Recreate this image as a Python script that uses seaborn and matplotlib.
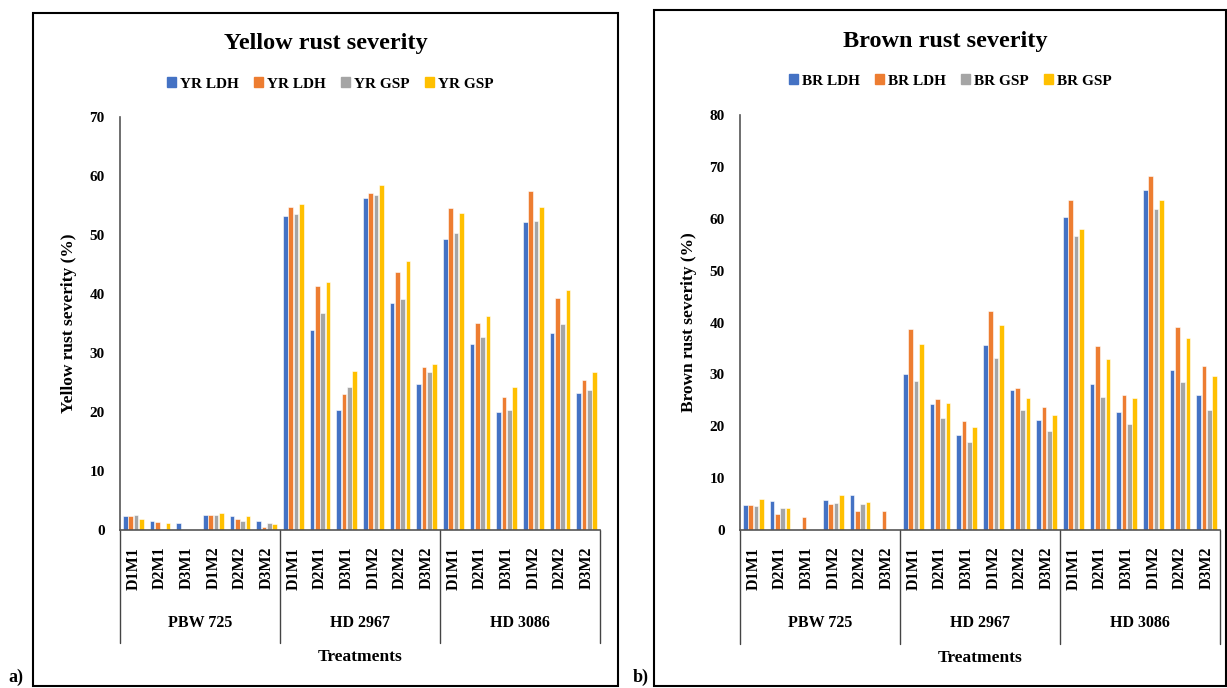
import numpy as np
import pandas as pd
import seaborn as sns
import matplotlib.pyplot as plt
from matplotlib.patches import Rectangle
from matplotlib.lines import Line2D
import matplotlib.transforms as mtransforms

sns.set_style("white")
plt.rcParams['font.family'] = ['Liberation Serif', 'DejaVu Serif']
plt.rcParams['font.weight'] = 'bold'
plt.rcParams['text.color'] = 'black'
plt.rcParams['axes.labelcolor'] = 'black'
plt.rcParams['xtick.color'] = 'black'
plt.rcParams['ytick.color'] = 'black'

varieties = ["PBW 725", "HD 2967", "HD 3086"]
treatments = ["D1M1", "D2M1", "D3M1", "D1M2", "D2M2", "D3M2"]
colors = ["#4472C4", "#ED7D31", "#A5A5A5", "#FFC000"]

yr_names = ["YR LDH", "YR LDH", "YR GSP", "YR GSP"]
br_names = ["BR LDH", "BR LDH", "BR GSP", "BR GSP"]

# yellow rust, one list per series, 18 values (3 varieties x 6 treatments)
yr_s1 = [2.4, 1.5, 1.2, 2.5, 2.4, 1.5,
         53.2, 33.9, 20.3, 56.2, 38.4, 24.7,
         49.3, 31.5, 20.0, 52.2, 33.4, 23.2]
yr_s2 = [2.4, 1.3, 0.0, 2.5, 1.8, 0.5,
         54.7, 41.3, 23.0, 57.2, 43.8, 27.6,
         54.5, 35.1, 22.5, 57.5, 39.3, 25.4]
yr_s3 = [2.6, 0.0, 0.0, 2.6, 1.5, 1.2,
         53.5, 36.7, 24.2, 56.8, 39.2, 26.7,
         50.3, 32.7, 20.3, 52.4, 34.9, 23.8]
yr_s4 = [1.9, 1.2, 0.0, 2.9, 2.4, 1.1,
         55.2, 42.0, 26.9, 58.4, 45.6, 28.2,
         53.7, 36.3, 24.2, 54.7, 40.7, 26.8]

# brown rust
br_s1 = [4.9, 5.6, 0.0, 5.8, 6.7, 0.0,
         30.1, 24.2, 18.3, 35.7, 27.0, 21.3,
         60.3, 28.1, 22.7, 65.5, 30.9, 26.0]
br_s2 = [4.9, 3.1, 2.5, 5.1, 3.7, 3.7,
         38.7, 25.2, 21.0, 42.3, 27.3, 23.7,
         63.6, 35.4, 26.0, 68.2, 39.2, 31.6]
br_s3 = [4.6, 4.2, 0.0, 5.3, 5.1, 0.0,
         28.7, 21.5, 17.0, 33.2, 23.1, 19.1,
         56.6, 25.7, 20.5, 61.8, 28.6, 23.2]
br_s4 = [6.0, 4.2, 0.0, 6.7, 5.4, 0.0,
         35.8, 24.4, 19.8, 39.5, 25.5, 22.1,
         58.0, 33.0, 25.5, 63.6, 37.1, 29.6]


def make_df(series):
    rows = []
    for k, vals in enumerate(series):
        for i, v in enumerate(vals):
            rows.append({"cat": varieties[i // 6] + " " + treatments[i % 6],
                         "series": "s%d" % k, "value": v})
    return pd.DataFrame(rows)


W, H = 1227, 688
fig = plt.figure(figsize=(W / 100, H / 100), dpi=100)
fig.patch.set_facecolor("white")


def px(x, y):
    return x / W, 1 - y / H


def draw_panel(rect, series, names, ymax, title, ylabel, title_xy, legend_xy, box, tag_xy, tag):
    ax = fig.add_axes(rect)
    df = make_df(series)
    order = df["cat"].unique()
    sns.barplot(data=df, x="cat", y="value", hue="series", order=order,
                palette=colors, saturation=1, width=0.8, gap=0.1, legend=False,
                edgecolor="white", linewidth=0.4, ax=ax, errorbar=None)
    ax.set_xlim(-0.5, 17.5)
    ax.set_ylim(0, ymax)
    ax.set_yticks(np.arange(0, ymax + 1, 10))
    ax.set_xticks(range(18))
    ax.set_xticklabels(treatments * 3, rotation=90, fontsize=11.5, fontweight="bold")
    ax.tick_params(axis="both", length=0)
    ax.tick_params(axis="y", pad=11, labelsize=11)
    ax.tick_params(axis="x", pad=12)
    for lab in ax.get_yticklabels():
        lab.set_fontweight("bold")
    for s in ["top", "right"]:
        ax.spines[s].set_visible(False)
    ax.spines["left"].set_color("#555555")
    ax.spines["bottom"].set_color("#555555")
    ax.spines["left"].set_linewidth(1.2)
    ax.spines["bottom"].set_linewidth(1.2)
    ax.set_xlabel("")
    ax.set_ylabel(ylabel, fontsize=12.5, fontweight="bold", labelpad=9)

    # group separators and variety labels under the axis
    trans = mtransforms.blended_transform_factory(ax.transData, ax.transAxes)
    for b in [-0.5, 5.5, 11.5, 17.5]:
        ax.add_line(Line2D([b, b], [0, -0.274], transform=trans, color="#444444",
                           linewidth=1.0, clip_on=False))
    for g, v in enumerate(varieties):
        ax.text(2.5 + 6 * g, -0.225, v, transform=trans, ha="center", va="center",
                fontsize=11.5, fontweight="bold")
    ax.text(0.5, -0.308, "Treatments", transform=ax.transAxes, ha="center",
            va="center", fontsize=12.5, fontweight="bold")

    tx, ty = px(*title_xy)
    fig.text(tx, ty, title, ha="center", va="center", fontsize=17.5, fontweight="bold")
    handles = [Rectangle((0, 0), 1, 1, color=c) for c in colors]
    lx, ly = px(*legend_xy)
    fig.legend(handles, names, loc="center", bbox_to_anchor=(lx, ly), ncol=4,
               frameon=False, handlelength=0.6, handleheight=0.6, handletextpad=0.25,
               columnspacing=1.0, prop={"weight": "bold", "size": 11})

    x0, y0 = px(box[0], box[3])
    x1, y1 = px(box[2], box[1])
    fig.add_artist(Rectangle((x0, y0), x1 - x0, y1 - y0, transform=fig.transFigure,
                             fill=False, edgecolor="black", linewidth=1.5))
    gx, gy = px(*tag_xy)
    fig.text(gx, gy, tag, ha="left", va="center", fontsize=13, fontweight="bold")
    return ax


draw_panel([120 / W, 1 - 530 / H, 480 / W, 413 / H],
           [yr_s1, yr_s2, yr_s3, yr_s4], yr_names, 70,
           "Yellow rust severity", "Yellow rust severity (%)",
           (326, 44), (330, 84), (33, 13, 618, 686), (8, 677), "a)")
draw_panel([740 / W, 1 - 530 / H, 480 / W, 415 / H],
           [br_s1, br_s2, br_s3, br_s4], br_names, 80,
           "Brown rust severity", "Brown rust severity (%)",
           (945, 42), (950, 81), (654, 10, 1226, 686), (633, 677), "b)")

fig.savefig("out.png", dpi=100, facecolor="white")
